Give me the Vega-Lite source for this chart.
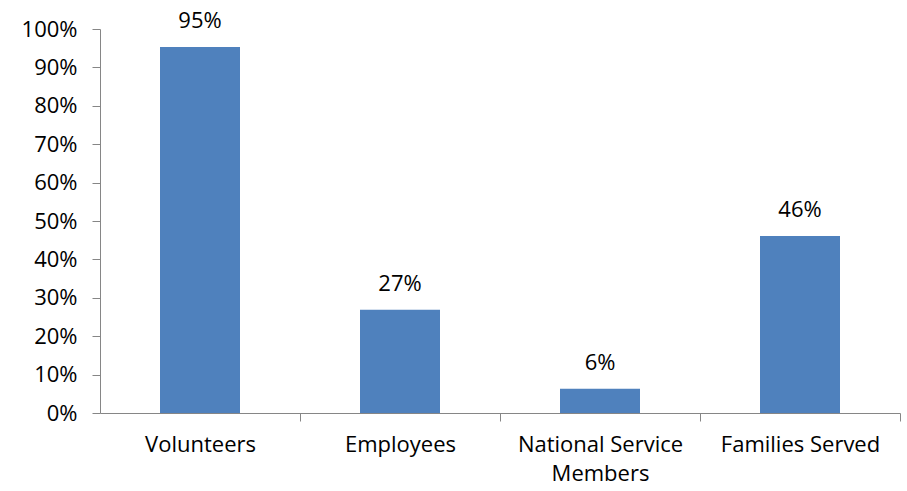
{
  "$schema": "https://vega.github.io/schema/vega-lite/v6.json",
  "width": 800,
  "height": 384,
  "autosize": {"type": "none"},
  "padding": {"left": 100, "top": 29, "right": 7, "bottom": 78},
  "background": "white",
  "config": {
    "view": {"stroke": null},
    "font": "Open Sans",
    "axis": {"grid": false, "domainColor": "#868686", "tickColor": "#868686", "labelColor": "#000000", "labelFont": "Open Sans", "labelFontSize": 22, "titleFontSize": 0}
  },
  "data": {
    "values": [
      {"group": "Volunteers", "share": 0.953},
      {"group": "Employees", "share": 0.269},
      {"group": "National Service Members", "share": 0.063},
      {"group": "Families Served", "share": 0.461}
    ]
  },
  "encoding": {
    "x": {
      "field": "group",
      "type": "nominal",
      "sort": null,
      "scale": {"paddingInner": 0.6, "paddingOuter": 0.3},
      "axis": {
        "title": null,
        "labelAngle": 0,
        "bandPosition": 1,
        "tickOffset": 60,
        "labelOffset": -60,
        "tickSize": 8,
        "labelPadding": 13,
        "labelLineHeight": 29,
        "labelExpr": "datum.value == 'National Service Members' ? ['National Service', 'Members'] : datum.value"
      }
    },
    "y": {
      "field": "share",
      "type": "quantitative",
      "scale": {"domain": [0, 1], "nice": false},
      "axis": {"title": null, "format": ".0%", "values": [0,0.1,0.2,0.3,0.4,0.5,0.6,0.7,0.8,0.9,1], "tickSize": 8, "labelPadding": 15}
    }
  },
  "layer": [
    {"mark": {"type": "bar", "color": "#4F81BD"}},
    {
      "mark": {"type": "text", "dy": -26, "fontSize": 22, "color": "#000000", "font": "Open Sans"},
      "encoding": {"text": {"field": "share", "type": "quantitative", "format": ".0%"}}
    }
  ]
}
